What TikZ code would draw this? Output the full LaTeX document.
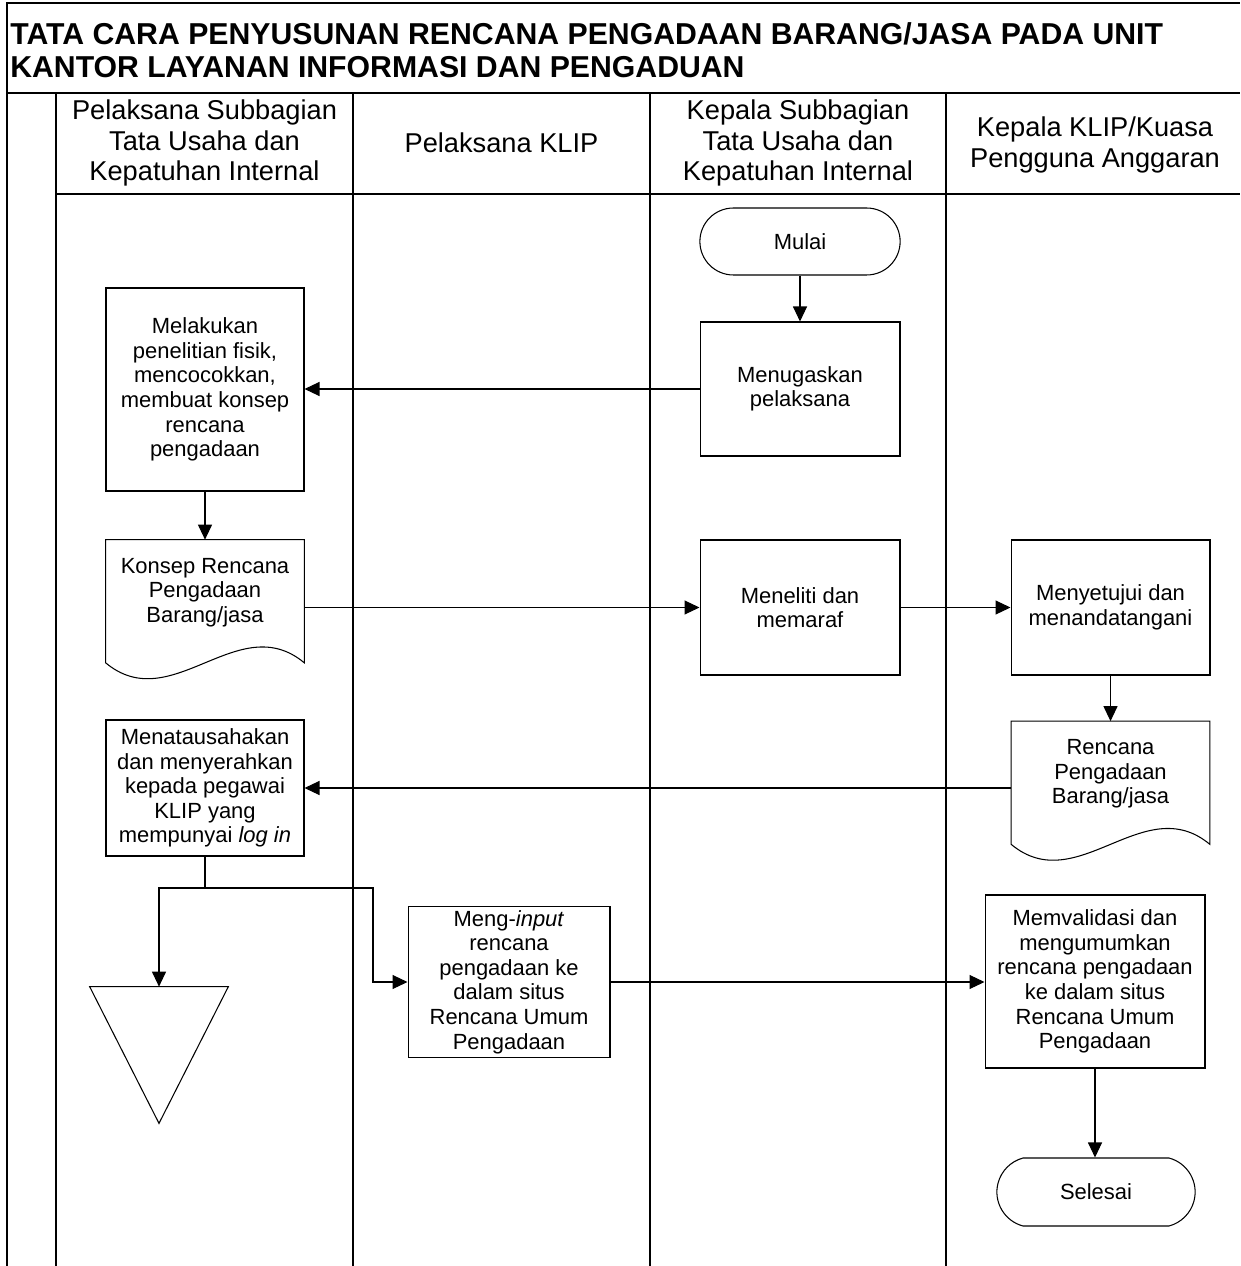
\documentclass[tikz,border=0pt]{standalone}
\usepackage{fontspec}
\setmainfont{Liberation Sans}
\usetikzlibrary{arrows.meta, positioning, shapes.misc}

\begin{document}
\begin{tikzpicture}[
    x=0.02cm, y=-0.02cm,
    font=\fontsize{12.5}{14}\selectfont,
    proc/.style={draw, line width=0.6pt, align=center, inner sep=2pt},
    doc/.style={align=center, inner sep=2pt, minimum width=3.96cm, minimum height=2.1cm},
    term/.style={draw, line width=0.6pt, rounded rectangle, rounded rectangle arc length=180,
        minimum width=4.24cm, minimum height=1.34cm},
    lanehead/.style={align=center, font=\fontsize{15.5}{17.5}\selectfont},
    flow/.style={-{Triangle[length=3mm, width=2.8mm]}, line width=0.6pt},
    lane/.style={line width=1pt}
]
\useasboundingbox (0,0) rectangle (1240,1266);

% --- Frame, title and lanes ---
\draw[lane] (7,1266) -- (7,3) -- (1240,3);
\draw[line width=1.6pt] (7,93) -- (1240,93);
\draw[lane] (56,93) -- (56,1266);
\foreach \x in {353,650,946}
    \draw[lane] (\x,93) -- (\x,1266);
\draw[lane] (56,194) -- (1240,194);

\node[anchor=north west, align=left, inner sep=0pt,
    font=\fontsize{17.2}{19}\selectfont\bfseries] (title) at (10,22)
    {TATA CARA PENYUSUNAN RENCANA PENGADAAN BARANG/JASA PADA UNIT\\
     KANTOR LAYANAN INFORMASI DAN PENGADUAN};

\node[lanehead] (hd1) at (204.5,143) {Pelaksana Subbagian\\Tata Usaha dan\\Kepatuhan Internal};
\node[lanehead] (hd2) at (501.5,143) {Pelaksana KLIP};
\node[lanehead] (hd3) at (798,143)   {Kepala Subbagian\\Tata Usaha dan\\Kepatuhan Internal};
\node[lanehead] (hd4) at (1095,145)  {Kepala KLIP/Kuasa\\Pengguna Anggaran};

% --- Steps ---
\node[term] (mulai) at (800,241.5) {Mulai};
\node[proc, minimum width=4cm, minimum height=2.68cm] (tugas) at (800,389) {Menugaskan\\pelaksana};
\node[proc, minimum width=3.96cm, minimum height=4.06cm] (periksa) at (205,389.5)
    {Melakukan\\penelitian fisik,\\mencocokkan,\\membuat konsep\\rencana\\pengadaan};
\node[doc] (konsep) at (205,592.5) {Konsep Rencana\\Pengadaan\\Barang/jasa};
\node[proc, minimum width=4cm, minimum height=2.7cm] (teliti) at (800,607.5) {Meneliti dan\\memaraf};
\node[proc, minimum width=3.98cm, minimum height=2.7cm] (setuju) at (1110.5,607.5)
    {Menyetujui dan\\menandatangani};
\node[doc] (rencana) at (1110.5,774) {Rencana\\Pengadaan\\Barang/jasa};
\node[proc, minimum width=3.96cm, minimum height=2.72cm] (tatausaha) at (205,788)
    {Menatausahakan\\dan menyerahkan\\kepada pegawai\\KLIP yang\\mempunyai \textit{log in}};
\node[minimum width=2.76cm, minimum height=2.72cm] (arsip) at (159,1055) {};
\node[proc, minimum width=4.04cm, minimum height=2.72cm] (input) at (509,982)
    {Meng-\textit{input}\\rencana\\pengadaan ke\\dalam situs\\Rencana Umum\\Pengadaan};
\node[proc, minimum width=4.4cm, minimum height=3.46cm] (validasi) at (1095,981.5)
    {Memvalidasi dan\\mengumumkan\\rencana pengadaan\\ke dalam situs\\Rencana Umum\\Pengadaan};
\node[term, rounded rectangle arc length=150, minimum width=4.2cm, minimum height=1.36cm]
    (selesai) at (1096,1192) {Selesai};

% --- Document outlines and archive triangle ---
\foreach \d in {konsep, rencana}
    \draw[line width=0.6pt] (\d.north west) -- (\d.north east) -- ([yshift=-0.35cm]\d.south east)
        .. controls +(-66,-55) and +(66,55) .. ([yshift=-0.35cm]\d.south west) -- cycle;
\draw[line width=0.6pt] (arsip.north west) -- (arsip.north east) -- (arsip.south) -- cycle;

% --- Flows ---
\draw[flow] (mulai.south) -- (tugas.north);
\draw[flow] (tugas.west) -- (periksa.east |- tugas.west);
\draw[flow] (periksa.south) -- (konsep.north);
\draw[flow] (konsep.east |- teliti.west) -- (teliti.west);
\draw[flow] (teliti.east) -- (setuju.west);
\draw[flow] (setuju.south) -- (rencana.north);
\draw[flow] (rencana.west |- tatausaha.east) -- (tatausaha.east);

\coordinate (cabang) at (205,888);
\coordinate (belok) at (373,888);
\draw[line width=0.6pt] (tatausaha.south) -- (cabang);
\draw[flow] (cabang) -| (arsip.north);
\draw[flow] (cabang) -- (belok) |- (input.west);
\draw[flow] (input.east) -- (validasi.west |- input.east);
\draw[flow] (validasi.south) -- (validasi.south |- selesai.north);

\end{tikzpicture}
\end{document}
